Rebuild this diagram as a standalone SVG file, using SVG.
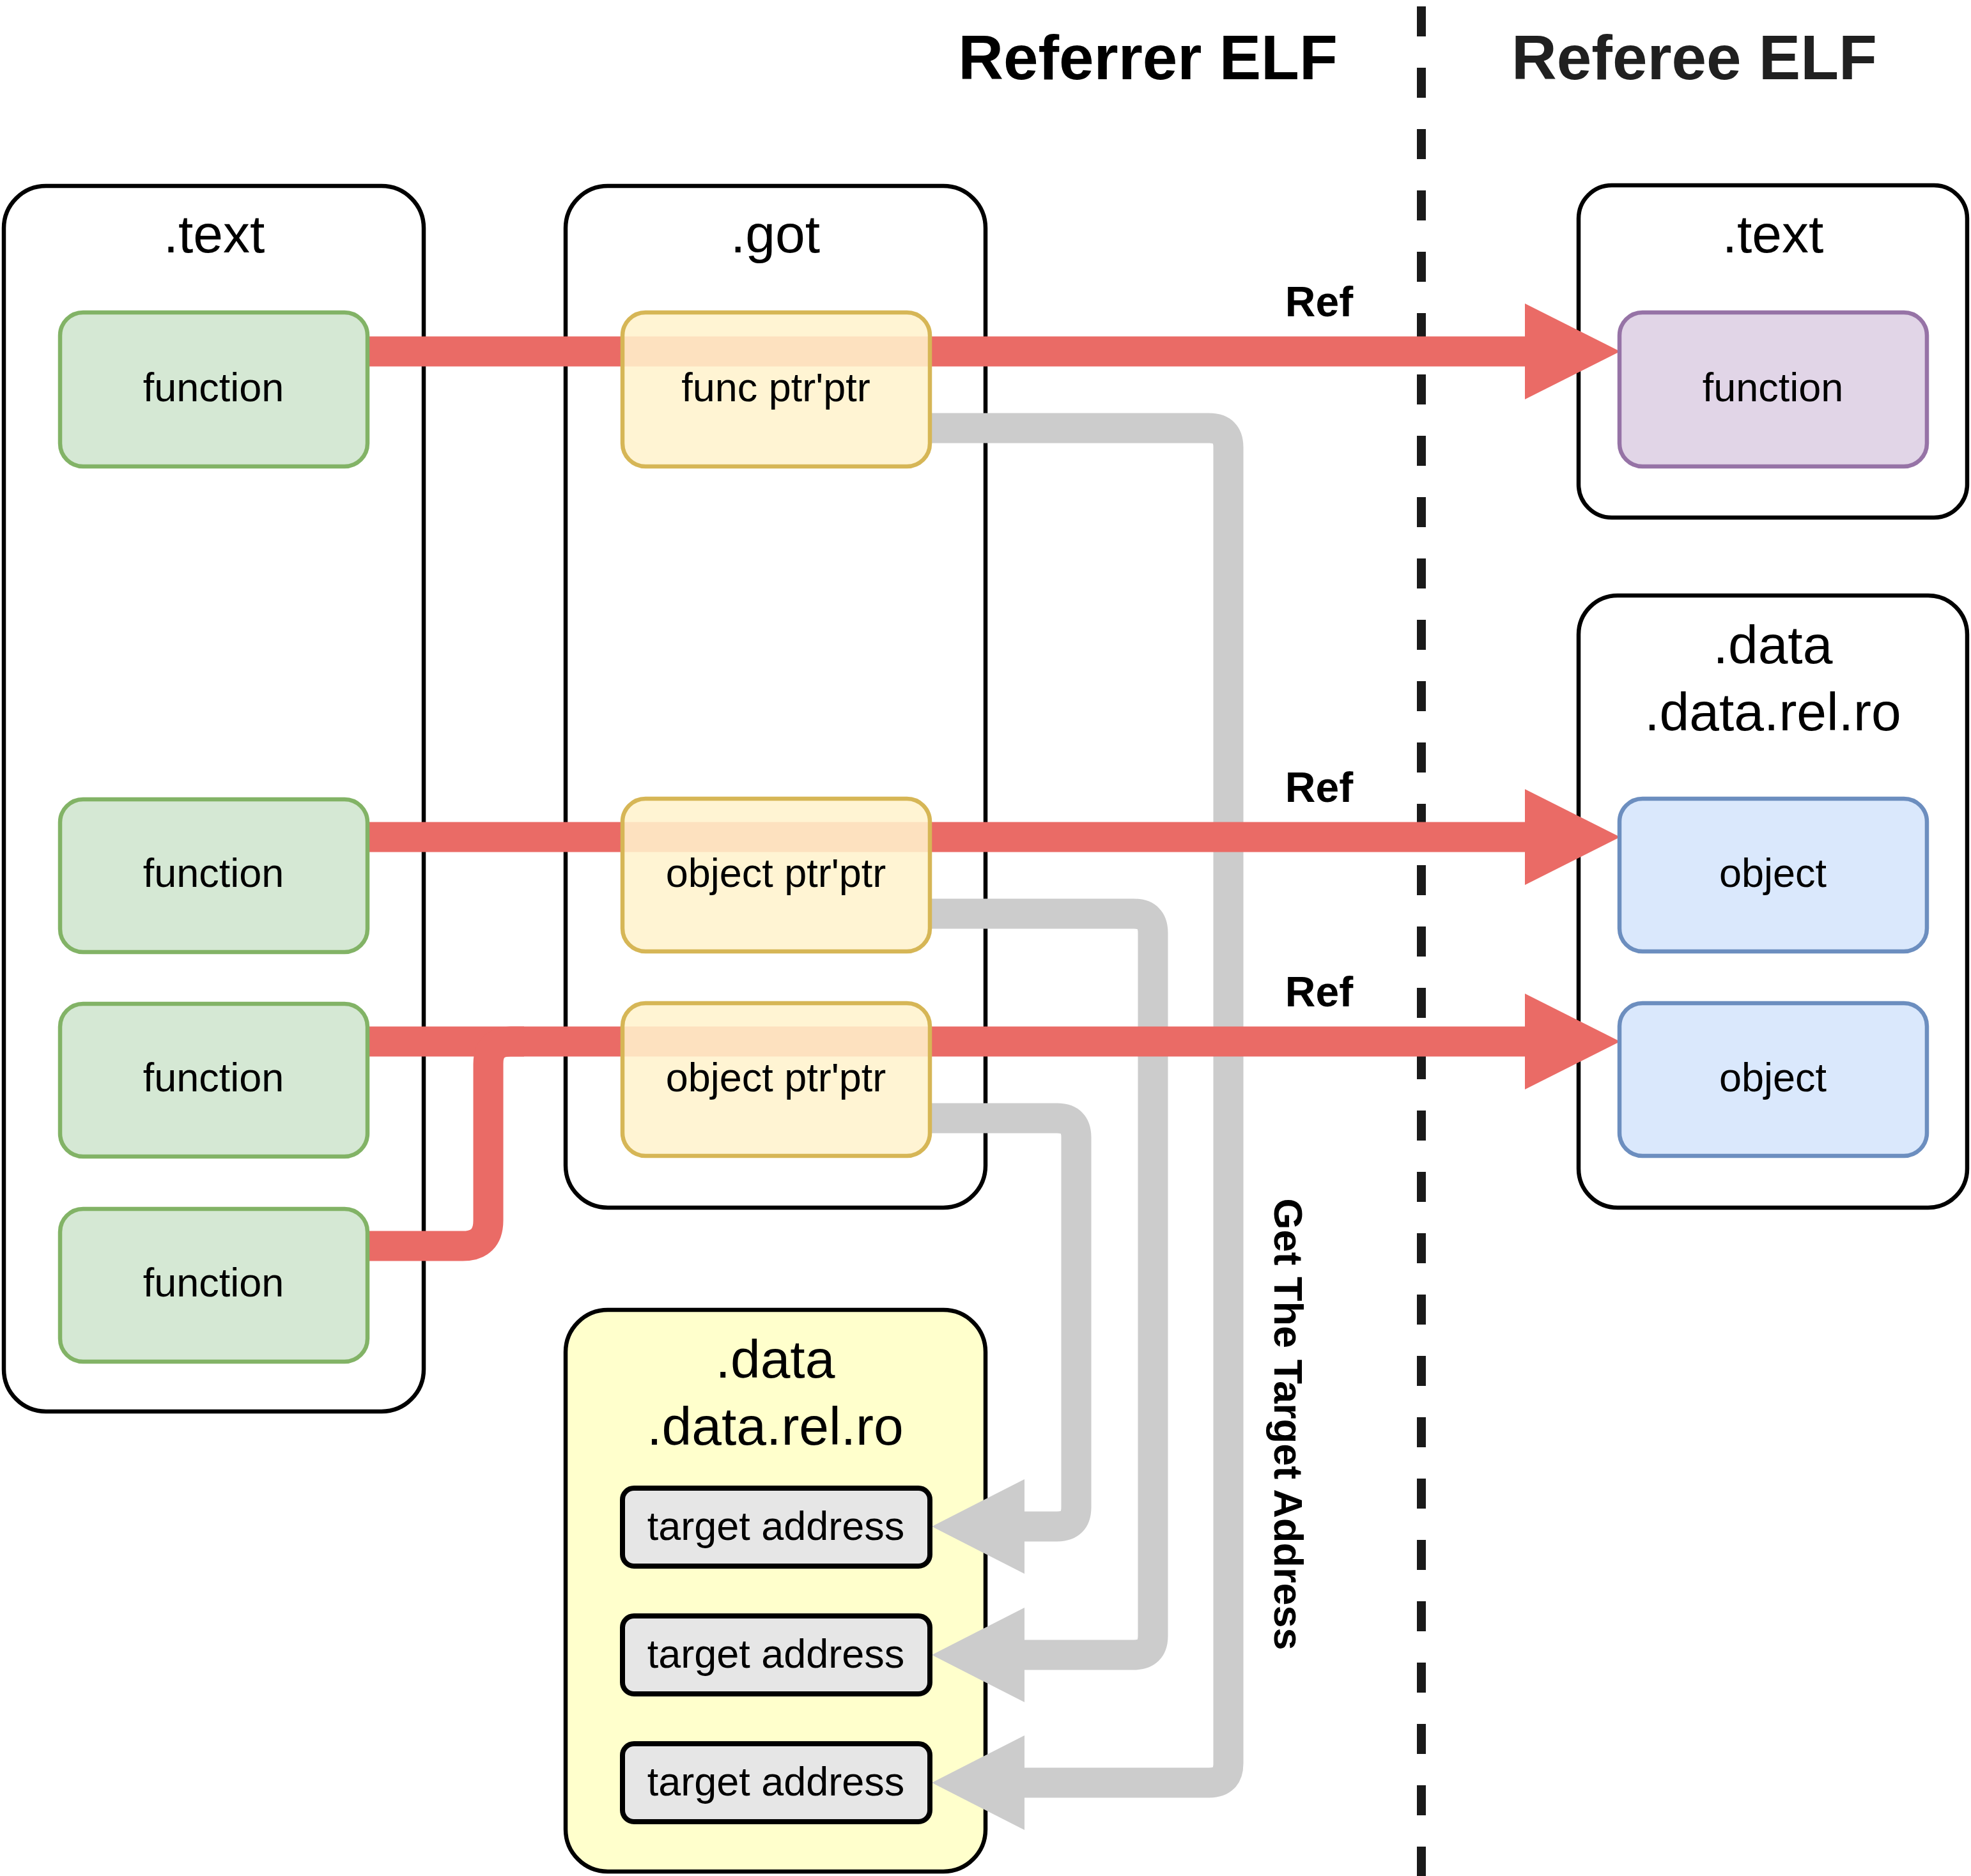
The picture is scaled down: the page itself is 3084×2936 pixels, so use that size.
<svg xmlns="http://www.w3.org/2000/svg" width="3084" height="2936" viewBox="0 0 3084 2936">
<style>
.bg{fill:#ffffff}
.cont{fill:#ffffff;stroke:#000000;stroke-width:6.5}
.contY{fill:#ffffcc;stroke:#000000;stroke-width:6.5}
.green{fill:#d5e8d4;stroke:#82b366;stroke-width:6.5}
.yellow{fill:#fff2cc;fill-opacity:0.87;stroke:#d6b656;stroke-width:6.5}
.purple{fill:#e1d5e7;stroke:#9673a6;stroke-width:6.5}
.blue{fill:#dae8fc;stroke:#6c8ebf;stroke-width:6.5}
.target{fill:#e6e6e6;stroke:#000000;stroke-width:8}
.title{font-family:"Liberation Sans",Arial,sans-serif;font-size:84px;fill:#000;text-anchor:middle}
.lbl{font-family:"Liberation Sans",Arial,sans-serif;font-size:63px;fill:#000;text-anchor:middle}
.big{font-family:"Liberation Sans",Arial,sans-serif;font-size:98px;font-weight:bold;text-anchor:middle}
.ref{font-family:"Liberation Sans",Arial,sans-serif;font-size:66px;font-weight:bold;fill:#000;text-anchor:middle}
.redl{fill:none;stroke:#ea6b66;stroke-width:47}
.greyl{fill:none;stroke:#cccccc;stroke-width:47}
.redh{fill:#ea6b66}
.greyh{fill:#cccccc}
</style>
<rect class="bg" x="0" y="0" width="3084" height="2936"/>

<text class="big" x="1796" y="124" fill="#000">Referrer ELF</text>
<text class="big" x="2651" y="124" fill="#202020">Referee ELF</text>

<line x1="2224" y1="10" x2="2224" y2="2936" stroke="#1a1a1a" stroke-width="14" stroke-dasharray="47 49"/>

<g id="text-left">
<rect class="cont" x="6" y="291" width="657" height="1918" rx="66"/>
<text class="title" x="335" y="395">.text</text>
</g>
<g id="got">
<rect class="cont" x="885" y="291" width="657" height="1599" rx="66"/>
<text class="title" x="1213" y="395">.got</text>
</g>
<g id="data-left">
<rect class="contY" x="885" y="2050" width="657" height="879" rx="66"/>
<text class="title" x="1213" y="2156">.data</text>
<text class="title" x="1213" y="2261">.data.rel.ro</text>
</g>
<g id="text-right">
<rect class="cont" x="2470" y="290" width="608" height="520" rx="52"/>
<text class="title" x="2774" y="395">.text</text>
</g>
<g id="data-right">
<rect class="cont" x="2470" y="932" width="608" height="958" rx="61"/>
<text class="title" x="2774" y="1038">.data</text>
<text class="title" x="2774" y="1143">.data.rel.ro</text>
</g>

<g id="connectors">
<path class="greyl" d="M1455,670 H1892 Q1922,670 1922,700 V2760 Q1922,2790 1892,2790 H1600"/>
<polygon class="greyh" points="1458,2790 1603,2716 1603,2864"/>
<path class="greyl" d="M1455,1430 H1774 Q1804,1430 1804,1460 V2560 Q1804,2590 1774,2590 H1600"/>
<polygon class="greyh" points="1458,2590 1603,2516 1603,2664"/>
<path class="greyl" d="M1455,1750 H1654 Q1684,1750 1684,1780 V2359 Q1684,2389 1654,2389 H1600"/>
<polygon class="greyh" points="1458,2389 1603,2315 1603,2463"/>

<path class="redl" d="M575,550 H2390"/>
<polygon class="redh" points="2535,550 2386,475 2386,625"/>
<path class="redl" d="M575,1310 H2390"/>
<polygon class="redh" points="2535,1310 2386,1235 2386,1385"/>
<path class="redl" d="M575,1630 H2390"/>
<polygon class="redh" points="2535,1630 2386,1555 2386,1705"/>
<path class="redl" d="M575,1950 H724 Q764,1950 764,1910 V1665 Q764,1630 799,1630 H820"/>

<text class="ref" x="2064" y="495">Ref</text>
<text class="ref" x="2064" y="1255">Ref</text>
<text class="ref" x="2064" y="1575">Ref</text>
<text class="lbl" font-weight="bold" transform="translate(1994,2229) rotate(90)">Get The Target Address</text>
</g>

<g id="fn1"><rect class="green" x="94" y="489" width="481" height="241" rx="36"/><text class="lbl" x="334" y="628">function</text></g>
<g id="fn2"><rect class="green" x="94" y="1251" width="481" height="239" rx="36"/><text class="lbl" x="334" y="1388">function</text></g>
<g id="fn3"><rect class="green" x="94" y="1571" width="481" height="239" rx="36"/><text class="lbl" x="334" y="1708">function</text></g>
<g id="fn4"><rect class="green" x="94" y="1892" width="481" height="239" rx="36"/><text class="lbl" x="334" y="2029">function</text></g>

<g id="got1"><rect class="yellow" x="974" y="489" width="481" height="241" rx="36"/><text class="lbl" x="1214" y="628">func ptr'ptr</text></g>
<g id="got2"><rect class="yellow" x="974" y="1250" width="481" height="239" rx="36"/><text class="lbl" x="1214" y="1388">object ptr'ptr</text></g>
<g id="got3"><rect class="yellow" x="974" y="1570" width="481" height="239" rx="36"/><text class="lbl" x="1214" y="1708">object ptr'ptr</text></g>

<g id="ta1"><rect class="target" x="974" y="2329" width="481" height="122" rx="18"/><text class="lbl" x="1214" y="2410">target address</text></g>
<g id="ta2"><rect class="target" x="974" y="2529" width="481" height="122" rx="18"/><text class="lbl" x="1214" y="2610">target address</text></g>
<g id="ta3"><rect class="target" x="974" y="2729" width="481" height="122" rx="18"/><text class="lbl" x="1214" y="2810">target address</text></g>

<g id="rfn"><rect class="purple" x="2534" y="489" width="481" height="241" rx="36"/><text class="lbl" x="2774" y="628">function</text></g>
<g id="obj1"><rect class="blue" x="2534" y="1250" width="481" height="239" rx="36"/><text class="lbl" x="2774" y="1388">object</text></g>
<g id="obj2"><rect class="blue" x="2534" y="1570" width="481" height="239" rx="36"/><text class="lbl" x="2774" y="1708">object</text></g>
</svg>
